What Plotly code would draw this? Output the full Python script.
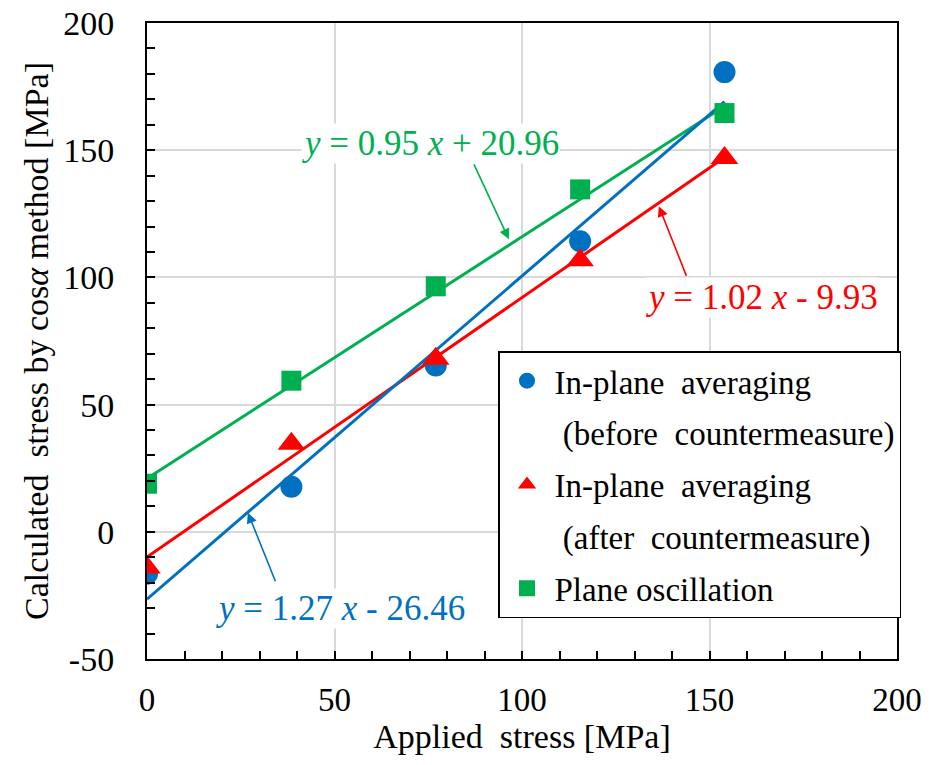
import plotly.graph_objects as go

# ---- data ----
applied = [0, 38.5, 77, 115.5, 154]
before_vals = [-16.5, 17.7, 65.4, 114.2, 180.7]
after_vals = [-14.0, 34.6, 68.0, 106.7, 146.9]
plane_vals = [18.9, 59.4, 96.5, 134.6, 164.6]

# trendline coefficients (slope, intercept) as printed on the chart
before_fit = [1.27, -26.46]
after_fit = [1.02, -9.93]
plane_fit = [0.95, 20.96]
fit_range = [0, 154]

x_ticks = [0, 50, 100, 150, 200]
x_labels = ["0", "50", "100", "150", "200"]
y_ticks = [-50, 0, 50, 100, 150, 200]
y_labels = ["-50", "0", "50", "100", "150", "200"]

BLUE = "#0070C0"
RED = "#FF0000"
GREEN = "#00B050"
FONT = "Times New Roman"

fig = go.Figure()


def fit_line(coef):
    return [coef[0] * x + coef[1] for x in fit_range]


for coef, col in [(plane_fit, GREEN), (after_fit, RED), (before_fit, BLUE)]:
    fig.add_trace(go.Scatter(x=fit_range, y=fit_line(coef), mode="lines",
                             line=dict(color=col, width=3), showlegend=False))

fig.add_trace(go.Scatter(x=applied, y=before_vals, mode="markers",
                         marker=dict(symbol="circle", size=22, color=BLUE),
                         name="In-plane  averaging", legendgroup="a"))
fig.add_trace(go.Scatter(x=[None], y=[None], mode="markers",
                         marker=dict(symbol="circle", size=22, color="white"),
                         name=" (before  countermeasure)", legendgroup="b"))
fig.add_trace(go.Scatter(x=applied, y=after_vals, mode="markers",
                         marker=dict(symbol="triangle-up", size=24, color=RED),
                         name="In-plane  averaging", legendgroup="c"))
fig.add_trace(go.Scatter(x=[None], y=[None], mode="markers",
                         marker=dict(symbol="circle", size=22, color="white"),
                         name=" (after  countermeasure)", legendgroup="d"))
fig.add_trace(go.Scatter(x=applied, y=plane_vals, mode="markers",
                         marker=dict(symbol="square", size=20, color=GREEN),
                         name="Plane oscillation", legendgroup="e"))

# equation labels
eqs = [
    ("<i>y</i> = 0.95 <i>x</i> + 20.96", GREEN, 75.5, 152.8, 96.5, 115.0, 87.0, 145.0),
    ("<i>y</i> = 1.02 <i>x</i> - 9.93", RED, 164.0, 92.0, 136.5, 128.0, 144.0, 100.0),
    ("<i>y</i> = 1.27 <i>x</i> - 26.46", BLUE, 51.5, -30.0, 26.9, 7.5, 34.4, -20.0),
]
for txt, col, tx, ty, hx, hy, sx, sy in eqs:
    fig.add_annotation(x=hx, y=hy, ax=sx, ay=sy, xref="x", yref="y",
                       axref="x", ayref="y", text="", showarrow=True,
                       arrowhead=2, arrowsize=1.3, arrowwidth=1.6, arrowcolor=col)
    fig.add_annotation(x=tx, y=ty, xref="x", yref="y", text=txt, showarrow=False,
                       font=dict(family=FONT, size=35, color=col),
                       bgcolor="white", borderpad=0)

fig.update_xaxes(range=[0, 200], tickvals=x_ticks, ticktext=x_labels,
                 showgrid=True, gridcolor="#d9d9d9",
                 gridwidth=1.5, showline=True, linecolor="black", linewidth=2,
                 mirror=True, ticks="inside", ticklen=8, tickwidth=1.5, tickcolor="black",
                 minor=dict(dtick=10, ticks="inside", ticklen=8, tickwidth=1.5,
                            tickcolor="black", showgrid=False),
                 zeroline=False, ticklabelstandoff=10, automargin=False,
                 tickfont=dict(family=FONT, size=33, color="black"),
                 title=dict(text="Applied  stress [MPa]", standoff=4,
                            font=dict(family=FONT, size=34, color="black")))
fig.update_yaxes(range=[-50, 200], tickvals=y_ticks, ticktext=y_labels,
                 showgrid=True, gridcolor="#d9d9d9",
                 gridwidth=1.5, showline=True, linecolor="black", linewidth=2,
                 mirror=True, ticks="inside", ticklen=8, tickwidth=1.5, tickcolor="black",
                 minor=dict(dtick=10, ticks="inside", ticklen=8, tickwidth=1.5,
                            tickcolor="black", showgrid=False),
                 zeroline=False, ticklabelstandoff=24, automargin=False,
                 tickfont=dict(family=FONT, size=34, color="black"),
                 title=dict(text="Calculated  stress by cos<i>α</i> method [MPa]", standoff=4,
                            font=dict(family=FONT, size=34, color="black")))

fig.update_layout(
    width=934, height=765,
    margin=dict(l=147, r=37, t=23, b=106),
    plot_bgcolor="white", paper_bgcolor="white",
    font=dict(family=FONT, color="black"),
    legend=dict(x=0.468, y=0.484, xanchor="left", yanchor="top",
                bgcolor="white", bordercolor="black", borderwidth=1.5,
                font=dict(family=FONT, size=33, color="black"),
                traceorder="grouped", tracegroupgap=6, itemsizing="trace",
                itemwidth=45),
)

fig.write_html("out.html")
